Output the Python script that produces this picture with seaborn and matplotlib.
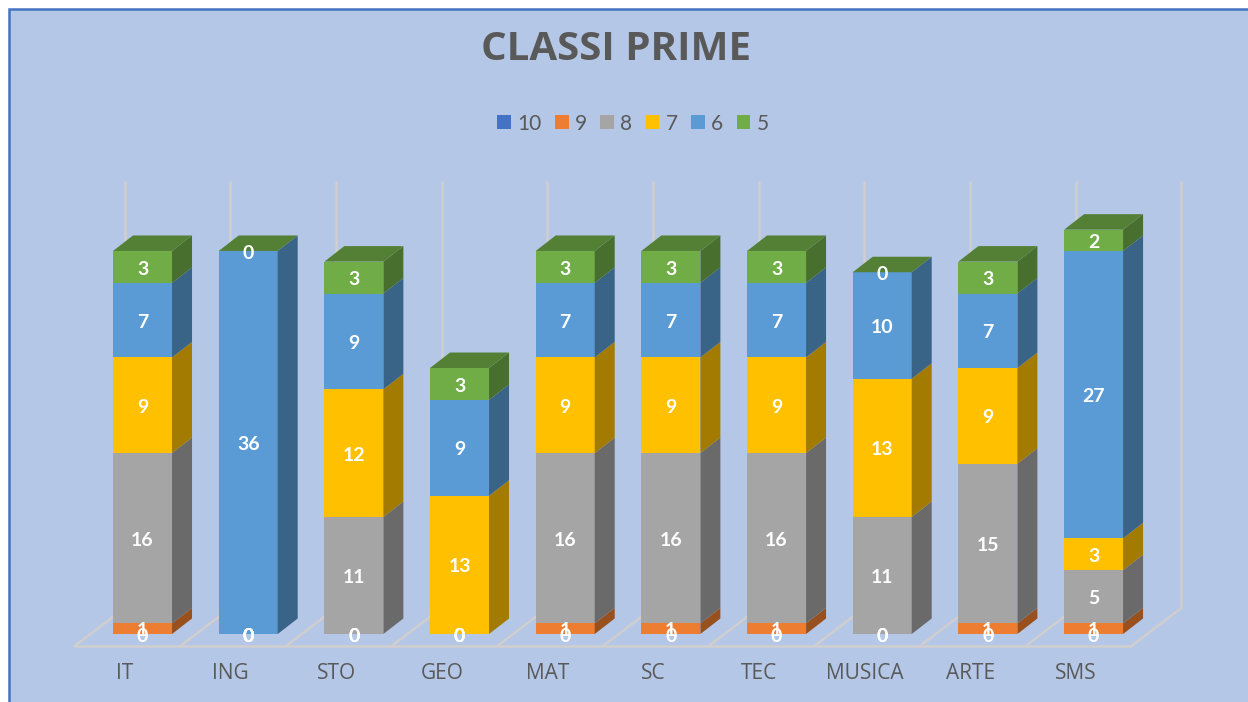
import numpy as np
import pandas as pd
import matplotlib
matplotlib.use("Agg")
import matplotlib.pyplot as plt
from matplotlib.patches import Polygon, Rectangle
from matplotlib.colors import to_rgb
import seaborn as sns

materie = ["IT", "ING", "STO", "GEO", "MAT", "SC", "TEC", "MUSICA", "ARTE", "SMS"]
voto_10 = [0, 0, 0, 0, 0, 0, 0, 0, 0, 0]
voto_9 = [1, 0, 0, 0, 1, 1, 1, 0, 1, 1]
voto_8 = [16, 0, 11, 0, 16, 16, 16, 11, 15, 5]
voto_7 = [9, 0, 12, 13, 9, 9, 9, 13, 9, 3]
voto_6 = [7, 36, 9, 9, 7, 7, 7, 10, 7, 27]
voto_5 = [3, 0, 3, 3, 3, 3, 3, 0, 3, 2]

voti = ["10", "9", "8", "7", "6", "5"]
colori = ["#4472C4", "#ED7D31", "#A5A5A5", "#FFC000", "#5B9BD5", "#70AD47"]

df = pd.DataFrame({"materia": materie, "10": voto_10, "9": voto_9, "8": voto_8,
                   "7": voto_7, "6": voto_6, "5": voto_5})

sns.set_style("white")
plt.rcParams["font.family"] = ["Lato", "DejaVu Sans"]

W, H = 1248, 702
fig = plt.figure(figsize=(W / 100, H / 100), dpi=100, facecolor="white")

# background panel with the thin blue border
fig.add_artist(Rectangle((9 / W, -0.01), 1.02, 1 - 9 / H + 0.01, transform=fig.transFigure,
                         facecolor="#B4C7E7", edgecolor="#4472C4", linewidth=1.8, zorder=-1))

ax = fig.add_axes([75 / W, (H - 646) / H, (1180 - 75) / W, (646 - 182) / H])
ax.patch.set_visible(False)

# pixels per unit, only used to turn the 3d offsets into data units
px_x = 105.67
px_y = 10.64
bar_w = 59 / px_x
depth_x = 20 / px_x
depth_y = 15.5 / px_y


def scuro(colore, f):
    return tuple(c * f for c in to_rgb(colore))


bottom = np.zeros(len(materie))
for voto, col in zip(voti, colori):
    sns.barplot(data=df, x="materia", y=voto, color=col, saturation=1, width=bar_w,
                bottom=bottom, label=voto, ax=ax, linewidth=0)
    # right side of each segment
    for i, (b, v) in enumerate(zip(bottom, df[voto])):
        if v == 0:
            continue
        xr = i + bar_w / 2
        ax.add_patch(Polygon([(xr, b), (xr + depth_x, b + depth_y),
                              (xr + depth_x, b + v + depth_y), (xr, b + v)],
                             facecolor=scuro(col, 0.64), edgecolor="none", clip_on=False))
    etichette = ax.bar_label(ax.containers[-1], label_type="center", color="white",
                             fontweight="bold", fontsize=14)
    for e in etichette:
        e.xyann = (0, -1.5)
    bottom = bottom + df[voto].values

# top faces are always in the colour of the last series
for i, t in enumerate(bottom):
    xl, xr = i - bar_w / 2, i + bar_w / 2
    ax.add_patch(Polygon([(xl, t), (xr, t), (xr + depth_x, t + depth_y), (xl + depth_x, t + depth_y)],
                         facecolor=scuro(colori[-1], 0.74), edgecolor="none", clip_on=False))

ax.set_xlim(-0.639, 9.818)
ax.set_ylim(-12 / px_y, 452 / px_y)

# floor and back wall lines
griglia = "#D0CECE"
front_x = np.arange(11) - 0.5 - 15 / px_x
back_x = np.arange(11) - 0.5 + 35 / px_x
front_y = -12 / px_y
back_y = 26 / px_y
top_y = 452 / px_y
ax.plot([front_x[0], front_x[-1]], [front_y, front_y], color=griglia, lw=1.8, zorder=0.5, clip_on=False)
for fx, bx in zip(front_x, back_x):
    ax.plot([fx, bx], [front_y, back_y], color=griglia, lw=1.8, zorder=0.5, clip_on=False)
    ax.plot([bx, bx], [back_y, top_y], color=griglia, lw=1.8, zorder=0.5, clip_on=False)

ax.set_xticks(np.arange(len(materie)) - 17.5 / px_x, materie)
ax.tick_params(axis="x", length=0, pad=12, labelsize=15, labelcolor="#595959")
for t in ax.get_xticklabels():
    t.set_fontfamily(["Open Sans", "DejaVu Sans"])
ax.set_yticks([])
ax.set_xlabel("")
ax.set_ylabel("")
sns.despine(ax=ax, left=True, bottom=True)

ax.legend(ncol=6, loc="center", bbox_to_anchor=(633 / W, 1 - 123.5 / H), bbox_transform=fig.transFigure,
          frameon=False, fontsize=15, labelcolor="#595959", handlelength=0.65, handleheight=0.65,
          handletextpad=0.3, columnspacing=0.65, borderpad=0)

fig.text(616 / W, 1 - 50 / H, "CLASSI PRIME", ha="center", va="center", fontsize=29,
         fontweight="bold", color="#595959", family=["Open Sans", "DejaVu Sans"])

fig.savefig("out.png", dpi=100)
